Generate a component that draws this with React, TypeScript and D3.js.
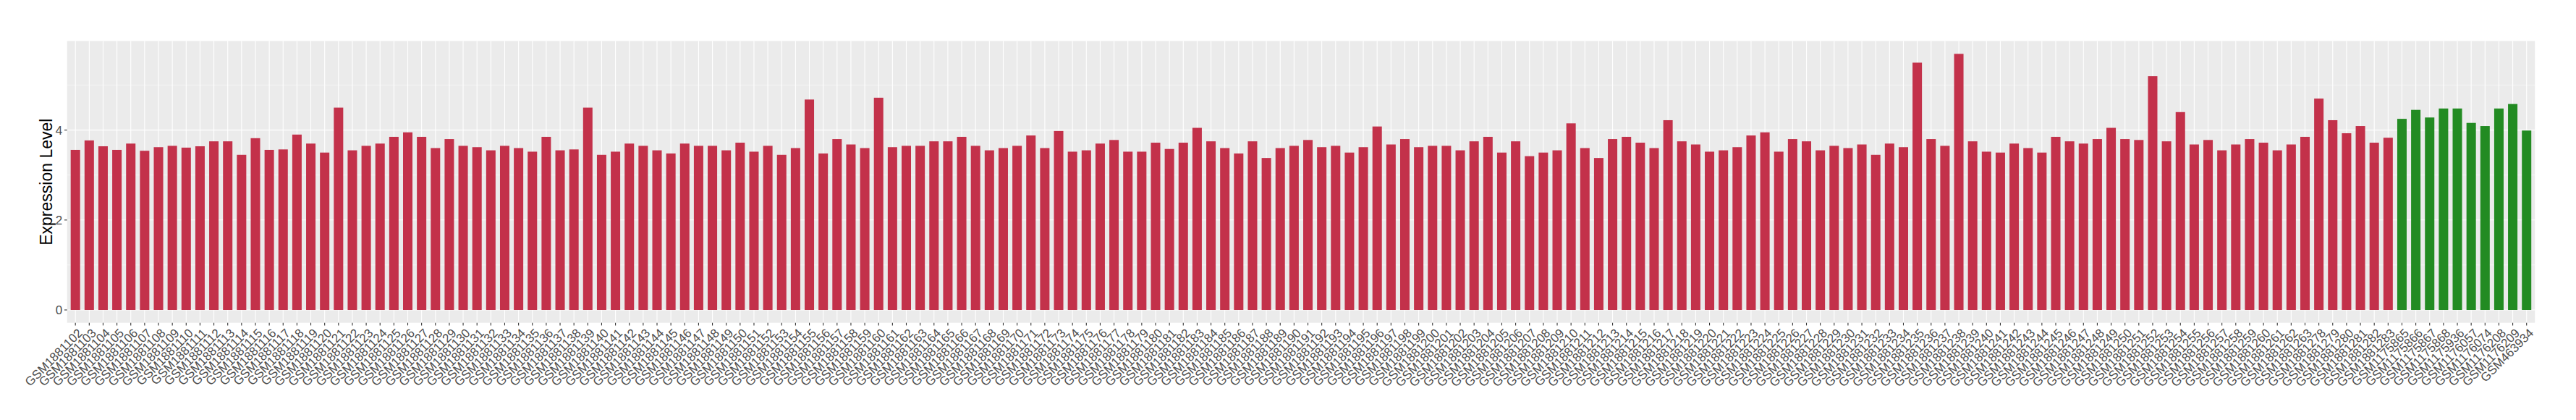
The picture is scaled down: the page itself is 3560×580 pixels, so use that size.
import React from "react";
import * as d3 from "d3";

// Sample suffixes (GSM1881xxx) for the red group — draft
const redIds = [
  102,103,104,105,106,107,108,109,110,111,112,113,114,115,116,117,118,119,120,121,
  122,123,124,125,126,127,128,129,130,131,132,133,134,135,136,137,138,139,140,141,
  142,143,144,145,146,147,148,149,150,151,152,153,154,155,156,157,158,159,160,161,
  162,163,164,165,166,167,168,169,170,171,172,173,174,175,176,177,178,179,180,181,
  182,183,184,185,186,187,188,189,190,191,192,193,194,195,196,197,198,199,200,201,
  202,203,204,205,206,207,208,209,210,211,212,213,214,215,216,217,218,219,220,221,
  222,223,224,225,226,227,228,229,230,231,232,233,234,235,236,237,238,239,240,241,
  242,243,244,245,246,247,248,249,250,251,252,253,254,255,256,257,258,259,260,261,
  262,263,278,279,280,281,282,283
];
const redSamples = redIds.map((d) => "GSM1881" + d);
const greenSamples = [
  "GSM1175865","GSM1175866","GSM1175867","GSM1175868","GSM1175936",
  "GSM1176057","GSM1176074","GSM1176208","GSM1176209","GSM463934"
];
const redValues = [
  3.56,3.77,3.64,3.56,3.70,3.54,3.62,3.65,3.61,3.64,3.75,3.75,3.45,3.82,3.56,3.57,
  3.90,3.70,3.50,4.50,3.55,3.65,3.70,3.85,3.95,3.85,3.60,3.80,3.65,3.62,3.55,3.65,
  3.60,3.52,3.85,3.55,3.57,4.50,3.45,3.52,3.70,3.65,3.55,3.48,3.70,3.65,3.65,3.55,
  3.72,3.52,3.65,3.45,3.60,4.68,3.48,3.80,3.68,3.60,4.72,3.62,3.65,3.65,3.75,3.75,
  3.85,3.65,3.55,3.60,3.65,3.88,3.60,3.98,3.52,3.55,3.70,3.78,3.52,3.52,3.72,3.58,
  3.72,4.05,3.75,3.60,3.48,3.75,3.38,3.60,3.65,3.78,3.62,3.65,3.50,3.62,4.08,3.68,
  3.80,3.62,3.65,3.65,3.55,3.75,3.85,3.50,3.75,3.42,3.50,3.55,4.15,3.60,3.38,3.80,
  3.85,3.72,3.60,4.22,3.75,3.68,3.52,3.55,3.62,3.88,3.95,3.52,3.80,3.75,3.55,3.65,
  3.60,3.68,3.45,3.70,3.62,5.50,3.80,3.65,5.695,3.75,3.52,3.50,3.70,3.60,3.50,3.85,
  3.75,3.70,3.80,4.05,3.80,3.78,5.20,3.75,4.40,3.68,3.78,3.55,3.68,3.80,3.72,3.55,
  3.68,3.85,4.70,4.22,3.93,4.09,3.72,3.83
];
const greenValues = [4.25,4.45,4.28,4.48,4.48,4.16,4.09,4.48,4.58,3.99];
const yMajor = [0, 2, 4];
const yMinor = [1, 3, 5];

const RED = "#C3314A";
const GREEN = "#228B22";

export default function App() {
  const W = 3560, H = 580;
  const L = 92.7, R = 3503.2, T = 56.7, B = 445.7;
  const samples = [...redSamples, ...greenSamples];
  const values = [...redValues, ...greenValues];
  const nRed = redSamples.length;
  const pInner = 0.32;
  const x = d3.scaleBand<string>().domain(samples).range([L, R])
    .paddingInner(pInner).paddingOuter((0.2 + pInner) / 2);
  const y = d3.scaleLinear().domain([-0.285, 5.98]).range([B, T]);
  const bw = x.bandwidth();
  const cx = (s: string) => (x(s) as number) + bw / 2;
  const font = "Liberation Sans, Arial, Helvetica, sans-serif";
  const labY = B + 3.7 + 2.9;
  return (
    <svg width={W} height={H} style={{ position: "fixed", left: 0, top: 0, background: "#fff" }}>
      <rect x={L} y={T} width={R - L} height={B - T} fill="#EBEBEB" />
      {yMinor.map((v) => (
        <line key={"mn" + v} x1={L} x2={R} y1={y(v)} y2={y(v)} stroke="#fff" strokeWidth={0.55} />
      ))}
      {yMajor.map((v) => (
        <line key={"mj" + v} x1={L} x2={R} y1={y(v)} y2={y(v)} stroke="#fff" strokeWidth={1.1} />
      ))}
      {samples.map((s) => (
        <line key={"vg" + s} x1={cx(s)} x2={cx(s)} y1={T} y2={B} stroke="#fff" strokeWidth={1.1} />
      ))}
      {samples.map((s, i) => (
        <rect key={"b" + s} x={x(s)} width={bw} y={y(values[i])} height={y(0) - y(values[i])}
          fill={i < nRed ? RED : GREEN} />
      ))}
      {yMajor.map((v) => (
        <g key={"yt" + v}>
          <line x1={L - 3.7} x2={L} y1={y(v)} y2={y(v)} stroke="#333" strokeWidth={1.1} />
          <text x={L - 3.7 - 2.9} y={y(v)} dy="0.35em" textAnchor="end" fontFamily={font}
            fontSize={17} fill="#4D4D4D">{v}</text>
        </g>
      ))}
      {samples.map((s) => (
        <g key={"xt" + s}>
          <line x1={cx(s)} x2={cx(s)} y1={B} y2={B + 3.7} stroke="#333" strokeWidth={1.1} />
          <text transform={`translate(${cx(s) + 2},${labY}) rotate(-45)`} textAnchor="end"
            dy="0.72em" fontFamily={font} fontSize={17} fill="#4D4D4D">{s}</text>
        </g>
      ))}
      <text transform={`translate(${72},${(T + B) / 2}) rotate(-90)`} textAnchor="middle"
        fontFamily={font} fontSize={23} fill="#000">Expression Level</text>
    </svg>
  );
}
